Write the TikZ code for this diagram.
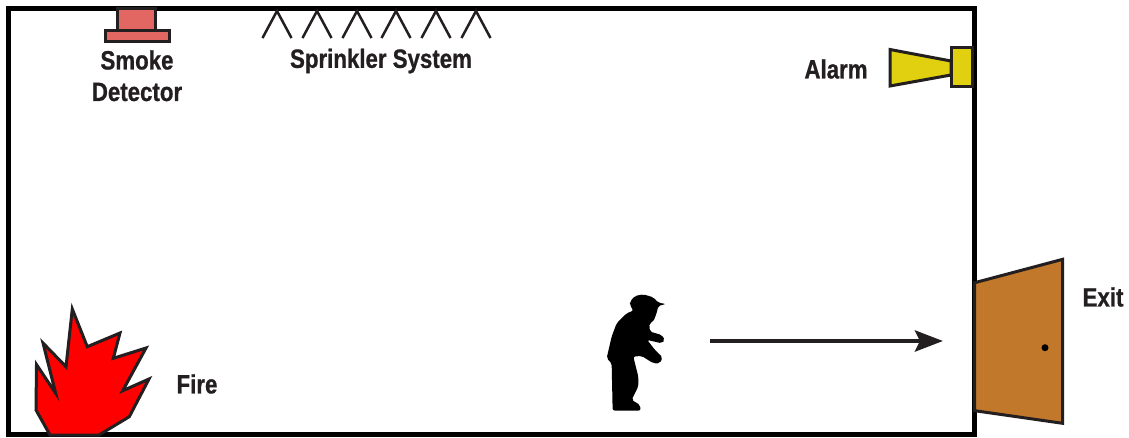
\documentclass[tikz,border=0pt]{standalone}
\usepackage{fontspec}
\setmainfont[FakeStretch=0.84,BoldFeatures={FakeBold=0.8,FakeStretch=0.84}]{Liberation Sans}
\usetikzlibrary{arrows.meta}
\definecolor{inkdark}{HTML}{231F20}
\definecolor{detectorred}{HTML}{E26661}
\definecolor{hornyellow}{HTML}{E0D00F}
\definecolor{doorbrown}{HTML}{C1782B}
\tikzset{
  labeltext/.style={font=\bfseries\fontsize{26.5}{30}\selectfont,text=inkdark,inner sep=0pt,align=center},
  part/.style={draw=inkdark,line width=3pt,line join=miter},
  pipe/.style={draw=inkdark,line width=2.5pt}
}
\begin{document}
\begin{tikzpicture}[x=1pt,y=-1pt]
  \useasboundingbox (0,0) rectangle (1129,437);
  % room
  \draw[line width=5pt] (8.5,8.5) rectangle (974,434.5);
  % detector on the ceiling
  \draw[part,fill=detectorred] (117,8) rectangle (155,30);
  \draw[part,fill=detectorred] (105,30) rectangle (169,41);
  \node[labeltext] (smoke) at (137,60) {Smoke};
  \node[labeltext] (detector) at (137,92) {Detector};
  % sprinkler heads
  \foreach \headx in {277,317,357,396,436,476}
    \draw[pipe] (\headx-14.5,38) -- (\headx,11) -- (\headx+14.5,38);
  \node[labeltext] (sprinkler) at (381,61) {Sprinkler System};
  % alarm horn
  \draw[part,fill=hornyellow] (890,49.5) -- (951,61) -- (951,75) -- (890,86) -- cycle;
  \draw[part,fill=hornyellow] (951,47) rectangle (972,86);
  \node[labeltext] (alarm) at (836,69) {Alarm};
  % fire
  \draw[part,fill=red] (72.3,309) -- (87.3,346.7) -- (120,333) -- (113.3,358.3)
    -- (146,348) -- (122.7,390.7) -- (149,379) -- (129.3,416.7) -- (99,435)
    -- (50,435) -- (36,410) -- (36.5,364.5) -- (55.7,393.3) -- (43,343) -- (66,366.7) -- cycle;
  \node[labeltext] (fire) at (197,384) {Fire};
  % person, traced in zoomed units
  \begin{scope}[shift={(590,280)},x=0.333pt,y=-0.333pt]
    \fill[black,rounded corners=2pt] (120,65) -- (135,48) -- (160,43) -- (190,52) -- (205,68)
      -- (228,72) -- (205,78) -- (200,100) -- (190,125) -- (178,130) -- (180,155) -- (215,165)
      -- (225,180) -- (215,190) -- (172,180) -- (195,210) -- (218,232) -- (210,250) -- (190,250)
      -- (155,228) -- (130,230) -- (145,290) -- (145,320) -- (125,360) -- (150,375) -- (152,392)
      -- (68,392) -- (65,250) -- (50,235) -- (65,170) -- (80,130) -- (110,100) -- (130,92)
      -- (120,75) -- cycle;
  \end{scope}
  % door
  \draw[part,fill=doorbrown] (974.7,282.7) -- (1062.7,259.3) -- (1062.7,423.3) -- (974.7,410.7) -- cycle;
  \fill (1045,347.7) circle (3.5);
  \node[labeltext] (exit) at (1103,297) {Exit};
  % way out
  \coordinate (walkstart) at (710,341);
  \coordinate (walkend) at (943,341);
  \draw[-{Stealth[length=28pt,width=21pt,inset=5pt]},draw=inkdark,line width=4.5pt] (walkstart) -- (walkend);
\end{tikzpicture}
\end{document}
